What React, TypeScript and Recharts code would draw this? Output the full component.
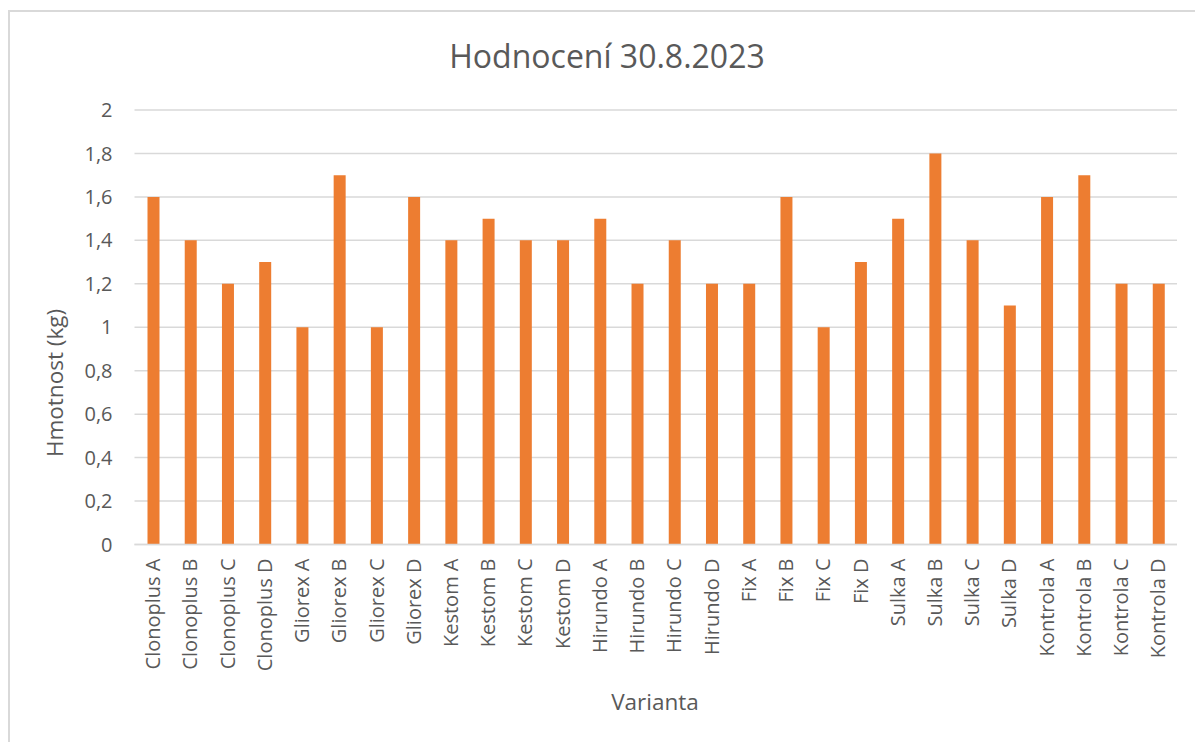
import React from "react";
import { BarChart, Bar, XAxis, YAxis, CartesianGrid } from "recharts";

const categories = [
  "Clonoplus A", "Clonoplus B", "Clonoplus C", "Clonoplus D",
  "Gliorex A", "Gliorex B", "Gliorex C", "Gliorex D",
  "Kestom A", "Kestom B", "Kestom C", "Kestom D",
  "Hirundo A", "Hirundo B", "Hirundo C", "Hirundo D",
  "Fix A", "Fix B", "Fix C", "Fix D",
  "Sulka A", "Sulka B", "Sulka C", "Sulka D",
  "Kontrola A", "Kontrola B", "Kontrola C", "Kontrola D",
];

const weights = [
  1.6, 1.4, 1.2, 1.3,
  1.0, 1.7, 1.0, 1.6,
  1.4, 1.5, 1.4, 1.4,
  1.5, 1.2, 1.4, 1.2,
  1.2, 1.6, 1.0, 1.3,
  1.5, 1.8, 1.4, 1.1,
  1.6, 1.7, 1.2, 1.2,
];

const yTicks = [0, 0.2, 0.4, 0.6, 0.8, 1, 1.2, 1.4, 1.6, 1.8, 2];

const title = "Hodnocení 30.8.2023";
const yTitle = "Hmotnost (kg)";
const xTitle = "Varianta";

const data = categories.map((name, i) => ({ name, value: weights[i] }));

const FONT = "'Open Sans', sans-serif";
const TEXT = "#595959";
const GRID = "#D9D9D9";
const ORANGE = "#ED7D31";

const XTick = (props: any) => {
  const { x, y, payload } = props;
  return (
    <g transform={`translate(${x},${y})`}>
      <text
        x={0}
        y={0}
        dy={7}
        textAnchor="end"
        transform="rotate(-90)"
        fill={TEXT}
        fontSize={20}
        fontFamily={FONT}
      >
        {payload.value}
      </text>
    </g>
  );
};

const fmt = (v: number) => String(Math.round(v * 10) / 10).replace(".", ",");

export default function App() {
  return (
    <div
      style={{
        position: "absolute",
        left: 8,
        top: 10,
        width: 1187,
        height: 732,
        borderLeft: `2px solid ${GRID}`,
        borderTop: `2px solid ${GRID}`,
        boxSizing: "border-box",
        background: "#fff",
      }}
    >
      <BarChart
        width={1185}
        height={730}
        data={data}
        margin={{ top: 98, right: 18, left: 0, bottom: 0 }}
        barSize={12}
      >
        <CartesianGrid horizontal={true} vertical={false} stroke={GRID} strokeWidth={1.5} />
        <XAxis
          dataKey="name"
          type="category"
          interval={0}
          height={197.5}
          tickSize={0}
          tickMargin={14}
          axisLine={{ stroke: GRID, strokeWidth: 1.5 }}
          tickLine={false}
          tick={<XTick />}
        />
        <YAxis
          width={124.5}
          domain={[0, 2]}
          ticks={yTicks}
          tickFormatter={fmt}
          tickSize={0}
          tickMargin={22}
          axisLine={false}
          tickLine={false}
          tick={{ fill: TEXT, fontSize: 20, fontFamily: FONT }}
        />
        <Bar dataKey="value" fill={ORANGE} isAnimationActive={false} />
      </BarChart>
      <svg
        width={1185}
        height={730}
        style={{ position: "absolute", left: 0, top: 0, pointerEvents: "none" }}
      >
        <text x={597} y={56} textAnchor="middle" fill={TEXT} fontSize={32} fontFamily={FONT}>
          {title}
        </text>
        <text
          transform="translate(53,371) rotate(-90)"
          textAnchor="middle"
          fill={TEXT}
          fontSize={22.5}
          fontFamily={FONT}
        >
          {yTitle}
        </text>
        <text x={645} y={698} textAnchor="middle" fill={TEXT} fontSize={22.5} fontFamily={FONT}>
          {xTitle}
        </text>
      </svg>
    </div>
  );
}
